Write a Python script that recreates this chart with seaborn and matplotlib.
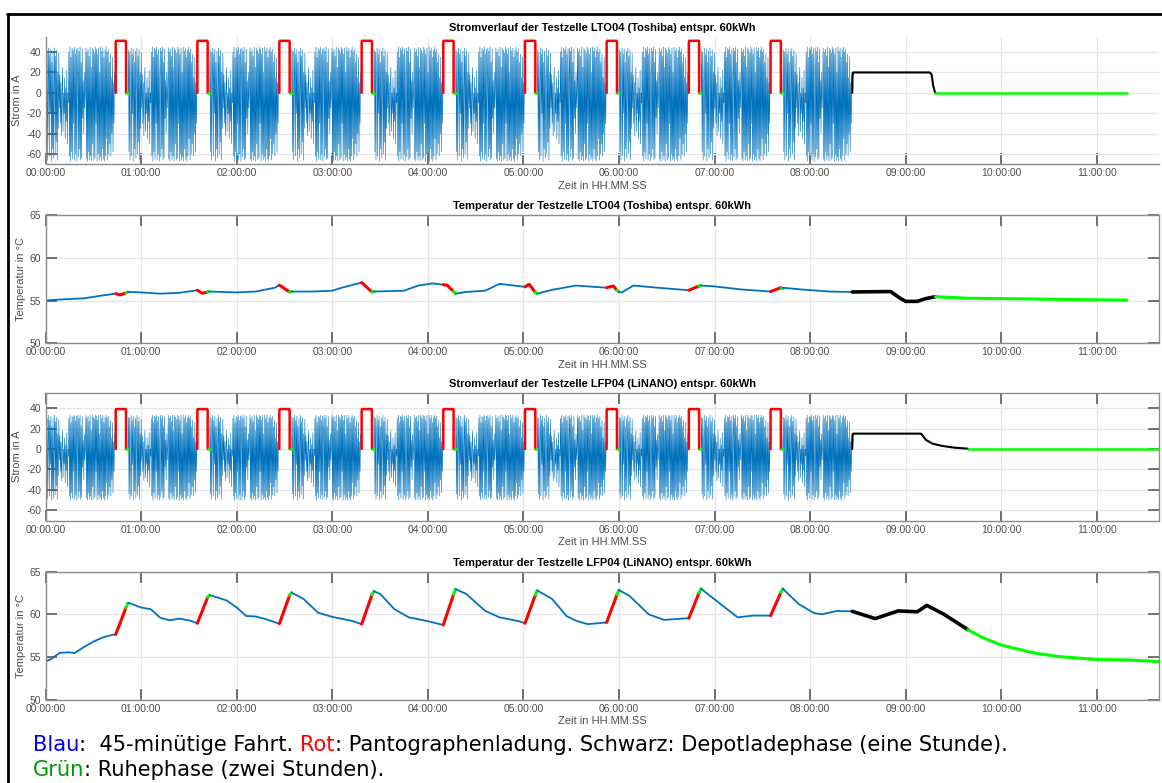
import numpy as np
import pandas as pd
import seaborn as sns
import matplotlib.pyplot as plt
from matplotlib.lines import Line2D

# Zeitplan des Zyklus (Stunden)
charge_start = [0.734, 1.588, 2.446, 3.307, 4.161, 5.016, 5.870, 6.730, 7.585]
charge_len = 0.108
rest_len = 0.02
depot_start = 8.44
depot_end_lto = 9.31
depot_end_lfp = 9.65
rest_end_lto = 11.31
rest_end_lfp = 11.66
sample_step = 20 / 3600  # ein Wert alle 20 s im Fahrprofil

# Fahrprofil (45-minuetige Fahrt), Strom in A, aus dem Bild geschaetzt
drive_lto = [
    0, 42, -58, 40, -66, 12, 44, -62, 38, -20, 43, -67, 30, -55, 41, -64, 8, 44, -60, 36, -48, 42, -66, 20, -35, 39,
    -15, 18, -30, 10, -42, 2, 25, -38, 0, -20, 15, -45, 5, -28, 22, -50, 0, -10,
    40, -62, 45, -67, 35, -58, 44, -65, 42, -30, 45, -66, 38, -60, 43, -67, 15, 44, -63, 41, -55, 45, -66, 30, -64, 43,
    -25, 12, -40, 20, -15, 5,
    44, -65, 40, -67, 43, -58, 36, -66, 45, -62, 25, -67, 44, -50, 42, -66, 39, -64, 45, -30, 43, -67,
    38, -60, 44, -66, 20, -63, 45, -67, 41, -55, 44, -65, 35, -67, 42, -62, 45, -45, 40, -66, 43, -60,
    30, -50, 38, -62, 15, -40, 35, -58, 10, -30, 20, 0,
]
drive_lfp = [
    0, 31, -44, 30, -49, 9, 33, -46, 28, -15, 32, -50, 22, -41, 30, -48, 6, 33, -45, 27, -36, 31, -49, 15, -26, 29,
    -11, 13, -22, 7, -31, 2, 18, -28, 0, -15, 11, -33, 4, -21, 16, -37, 0, -7,
    30, -46, 33, -50, 26, -43, 32, -48, 31, -22, 33, -49, 28, -45, 32, -50, 11, 33, -47, 30, -41, 33, -49, 22, -47, 32,
    -18, 9, -30, 15, -11, 4,
    33, -48, 30, -50, 32, -43, 27, -49, 33, -46, 18, -50, 33, -37, 31, -49, 29, -47, 33, -22, 32, -50,
    28, -45, 33, -49, 15, -47, 33, -50, 30, -41, 33, -48, 26, -50, 31, -46, 33, -33, 30, -49, 32, -45,
    22, -37, 28, -46, 11, -30, 26, -43, 7, -22, 15, 0,
]
panto_peak_lto = 51
panto_peak_lfp = 39

depot_t_lto = [8.44, 8.443, 8.45, 9.25, 9.27, 9.285, 9.30, 9.31]
depot_i_lto = [0, 17, 20, 20, 18, 8, 2, 0]
depot_t_lfp = [8.44, 8.443, 8.45, 9.16, 9.21, 9.28, 9.38, 9.51, 9.65]
depot_i_lfp = [0, 13, 15, 15, 8.9, 5.2, 3.0, 1.3, 0.3]

# Temperaturverlauf LTO04
temp_t_lto = [0.0, 0.2, 0.4, 0.6, 0.734, 0.78, 0.842, 0.862, 1.0, 1.2, 1.4,
              1.588, 1.64, 1.696, 1.716, 2.0, 2.2, 2.4, 2.446, 2.554, 2.574, 2.8, 3.0, 3.1,
              3.307, 3.415, 3.435, 3.6, 3.75, 3.9, 4.05, 4.161, 4.2, 4.269, 4.289, 4.4, 4.6, 4.75,
              5.016, 5.06, 5.124, 5.144, 5.3, 5.55, 5.8, 5.870, 5.94, 5.978, 5.998, 6.03, 6.15, 6.4,
              6.730, 6.838, 6.858, 7.0, 7.27, 7.585, 7.693, 7.713, 7.9, 8.2,
              8.44, 8.84, 8.95, 9.0, 9.12, 9.2, 9.31, 9.64, 10.2, 10.8, 11.31]
temp_v_lto = [55.0, 55.15, 55.25, 55.6, 55.8, 55.65, 55.9, 56.0, 55.95, 55.8, 55.9,
              56.2, 55.85, 56.0, 56.05, 55.95, 56.05, 56.5, 56.8, 56.0, 56.05, 56.05, 56.15, 56.5,
              57.1, 56.0, 56.05, 56.1, 56.15, 56.75, 57.0, 56.85, 56.8, 56.05, 55.8, 56.0, 56.15, 56.95,
              56.6, 56.9, 55.95, 55.8, 56.25, 56.75, 56.55, 56.5, 56.7, 56.2, 56.0, 55.95, 56.75, 56.5,
              56.2, 56.7, 56.75, 56.65, 56.3, 56.05, 56.5, 56.5, 56.3, 56.05,
              56.0, 56.05, 55.2, 54.9, 54.9, 55.2, 55.45, 55.27, 55.2, 55.1, 55.05]

# Temperaturverlauf LFP04
temp_t_lfp = [0.0, 0.05, 0.15, 0.25, 0.3, 0.4, 0.5, 0.6, 0.7, 0.734, 0.842, 0.862, 0.87,
              1.0, 1.1, 1.2, 1.3, 1.4, 1.5, 1.588, 1.696, 1.716, 1.75, 1.9, 2.0, 2.1, 2.2, 2.3,
              2.446, 2.554, 2.574, 2.7, 2.85, 3.0, 3.2, 3.307, 3.415, 3.435, 3.5, 3.65, 3.8, 4.0,
              4.161, 4.269, 4.289, 4.4, 4.6, 4.75, 4.95, 5.016, 5.124, 5.144, 5.3, 5.45, 5.55, 5.67,
              5.870, 5.978, 5.998, 6.11, 6.31, 6.47, 6.730, 6.838, 6.858, 7.0, 7.24, 7.4,
              7.585, 7.693, 7.713, 7.88, 8.04, 8.12, 8.28,
              8.44, 8.68, 8.92, 9.12, 9.22, 9.4, 9.65, 9.8, 10.0, 10.33, 10.6, 11.01, 11.34, 11.66]
temp_v_lfp = [54.5, 54.7, 55.5, 55.55, 55.45, 56.15, 56.8, 57.3, 57.6, 57.65, 60.8, 61.3, 61.35,
              60.8, 60.6, 59.6, 59.3, 59.5, 59.3, 58.95, 62.0, 62.25, 62.15, 61.6, 60.8, 59.8, 59.75, 59.45,
              58.9, 62.25, 62.55, 61.8, 60.2, 59.7, 59.25, 58.85, 62.3, 62.7, 62.4, 60.6, 59.65, 59.2,
              58.75, 62.35, 62.95, 62.4, 60.4, 59.65, 59.2, 58.95, 62.25, 62.8, 61.8, 59.8, 59.25, 58.85,
              59.05, 62.3, 62.85, 62.15, 60.0, 59.35, 59.55, 62.55, 63.0, 61.75, 59.65, 59.85,
              59.85, 62.55, 63.0, 61.2, 60.15, 60.0, 60.4,
              60.35, 59.5, 60.4, 60.3, 61.05, 60.0, 58.2, 57.3, 56.4, 55.5, 55.05, 54.7, 54.65, 54.45]

hour_ticks = list(range(12))
hour_labels = [f"{h:02d}:00:00" for h in hour_ticks]

BLUE = "#0072BD"
RED = "#ff0000"
GREEN = "#00ff00"
BLACK = "#000000"
LABEL_GREY = "#4d4d4d"

sns.set_theme(style="whitegrid")
plt.rcParams["font.family"] = ["Liberation Sans", "DejaVu Sans"]
plt.rcParams["axes.unicode_minus"] = False


def plot_current(ax, drive, peak, depot_t, depot_i, rest_t0, rest_t1):
    drive_starts = [0.0] + [c + charge_len + rest_len for c in charge_start]
    rows = []
    for k, s in enumerate(drive_starts):
        for j, v in enumerate(drive):
            rows.append((s + j * sample_step, v, k))
    df = pd.DataFrame(rows, columns=["t", "i", "fahrt"])
    sns.lineplot(data=df, x="t", y="i", units="fahrt", estimator=None, sort=False,
                 color=BLUE, lw=0.4, ax=ax)
    for c in charge_start:
        e = c + charge_len
        sns.lineplot(x=[c, c, c + 0.004, e - 0.004, e, e], y=[0, peak - 1.5, peak, peak, peak - 1.5, 0],
                     color=RED, lw=1.8, estimator=None, sort=False, ax=ax)
        sns.lineplot(x=[e, e + rest_len], y=[0, 0], color=GREEN, lw=1.8, estimator=None, sort=False, ax=ax)
    sns.lineplot(x=depot_t, y=depot_i, color=BLACK, lw=1.5, estimator=None, sort=False, ax=ax)
    sns.lineplot(x=[rest_t0, rest_t1], y=[0, 0], color=GREEN, lw=1.8, estimator=None, sort=False, ax=ax)
    ax.set_ylim(-70, 55)
    ax.set_yticks([-60, -40, -20, 0, 20, 40])
    ax.set_ylabel("Strom in A")


def plot_temp(ax, t, v, depot_end):
    def phase_color(x):
        if x >= depot_end:
            return GREEN
        if x >= depot_start:
            return BLACK
        for c in charge_start:
            if c <= x < c + charge_len:
                return RED
            if c + charge_len <= x < c + charge_len + rest_len:
                return GREEN
        return BLUE

    segs = []
    for a in range(len(t) - 1):
        col = phase_color((t[a] + t[a + 1]) / 2)
        if segs and segs[-1][0] == col:
            segs[-1][2] = a + 1
        else:
            segs.append([col, a, a + 1])
    widths = {BLUE: 1.3, RED: 2.2, GREEN: 2.2, BLACK: 2.6}
    for col, a, b in segs:
        sns.lineplot(x=t[a:b + 1], y=v[a:b + 1], color=col, lw=widths[col],
                     estimator=None, sort=False, ax=ax)
    ax.set_ylim(50, 65)
    ax.set_yticks([50, 55, 60, 65])
    ax.set_ylabel("Temperatur in °C")


def style_axes(ax, title, full_box=True):
    ax.set_facecolor("white")
    ax.set_xlim(0, 11.65)
    ax.set_xticks(hour_ticks)
    ax.set_xticklabels(hour_labels)
    ax.grid(True, color="#e6e6e6", lw=0.9)
    ax.set_axisbelow(True)
    for name, sp in ax.spines.items():
        sp.set_color("#8c8c8c")
        sp.set_linewidth(1.0)
    if not full_box:
        ax.spines["top"].set_visible(False)
        ax.spines["right"].set_visible(False)
    ax.tick_params(axis="both", which="both", direction="in", length=8, width=1.3,
                   color="#666666", labelsize=7.5, labelcolor=LABEL_GREY, pad=3,
                   top=full_box, right=full_box, bottom=True, left=True)
    ax.set_title(title, fontsize=8, fontweight="bold", color="black", pad=4)
    ax.set_xlabel("Zeit in HH.MM.SS", fontsize=8, color=LABEL_GREY, labelpad=1.5)
    ax.yaxis.label.set_size(8)
    ax.yaxis.label.set_color(LABEL_GREY)
    ax.yaxis.labelpad = 3


fig = plt.figure(figsize=(11.62, 7.83), dpi=100)
left, width = 0.0392, 0.9583
ax1 = fig.add_axes([left, 0.7902, width, 0.1629])
ax2 = fig.add_axes([left, 0.5616, width, 0.1638])
ax3 = fig.add_axes([left, 0.3350, width, 0.1635])
ax4 = fig.add_axes([left, 0.1064, width, 0.1635])

plot_current(ax1, drive_lto, panto_peak_lto, depot_t_lto, depot_i_lto, depot_end_lto, rest_end_lto)
style_axes(ax1, "Stromverlauf der Testzelle LTO04 (Toshiba) entspr. 60kWh", full_box=False)

plot_temp(ax2, temp_t_lto, temp_v_lto, depot_end_lto)
style_axes(ax2, "Temperatur der Testzelle LTO04 (Toshiba) entspr. 60kWh")

plot_current(ax3, drive_lfp, panto_peak_lfp, depot_t_lfp, depot_i_lfp, depot_end_lfp, rest_end_lfp)
style_axes(ax3, "Stromverlauf der Testzelle LFP04 (LiNANO) entspr. 60kWh")

plot_temp(ax4, temp_t_lfp, temp_v_lfp, depot_end_lfp)
style_axes(ax4, "Temperatur der Testzelle LFP04 (LiNANO) entspr. 60kWh")

# Rahmen oben und links
fig.add_artist(Line2D([0.006, 1.0], [1 - 14 / 783, 1 - 14 / 783], color="black", lw=2,
                      transform=fig.transFigure))
fig.add_artist(Line2D([8 / 1162, 8 / 1162], [0, 1 - 14 / 783], color="black", lw=2,
                      transform=fig.transFigure))

# Legende als farbiger Text
renderer = fig.canvas.get_renderer()
note_size = 15.1


def text_width(s):
    t = fig.text(0, 0, s, fontsize=note_size, family="DejaVu Sans")
    w = t.get_window_extent(renderer=renderer).width
    t.remove()
    return w


def colored_line(x0, y, parts):
    prefix = ""
    for txt, col in parts:
        off = (text_width(prefix + "x") - text_width("x")) if prefix else 0
        fig.text(x0 + off / fig.bbox.width, y, txt, color=col, fontsize=note_size,
                 family="DejaVu Sans", ha="left", va="center")
        prefix += txt


colored_line(33 / 1162, 1 - 745 / 783, [
    ("Blau", "#0000ff"), (":  45-minütige Fahrt. ", "black"), ("Rot", "#ff0000"),
    (": Pantographenladung. Schwarz: Depotladephase (eine Stunde).", "black"),
])
colored_line(33 / 1162, 1 - 770 / 783, [
    ("Grün", "#009900"), (": Ruhephase (zwei Stunden).", "black"),
])

fig.savefig("out.png", dpi=100, facecolor="white")
